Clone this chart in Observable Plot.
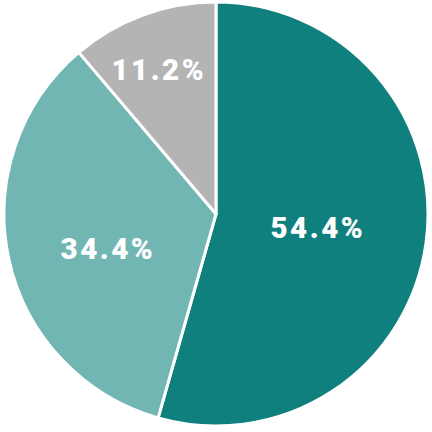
<!DOCTYPE html>
<html><head><meta charset="utf-8">
<script src="https://cdn.jsdelivr.net/npm/d3@7"></script>
<script src="https://cdn.jsdelivr.net/npm/@observablehq/plot@0.6"></script>
<style>body{margin:0;background:#fff}#chart{width:432px;height:432px}
#chart svg text{letter-spacing:2.5px;font-family:Roboto;font-weight:900;font-size:29.5px}</style>
</head><body><div id="chart"></div>
<script>
const categories = ["A", "B", "C"];
const values = [54.4, 34.4, 11.2];
const labels = ["54.4%", "34.4%", "11.2%"];
const colors = ["#0f807e", "#72b6b3", "#b4b4b4"];
const labelRadius = [0.477, 0.544, 0.734];
const labelAngleShift = [0.3, -5.5, -2.1];

const W = 432, H = 432, cx = 216, cy = 214, R = 212;
const data = categories.map((c, i) => ({category: c, value: values[i], label: labels[i], lr: labelRadius[i], la: labelAngleShift[i]}));
const arcs = d3.pie().sort(null).value(d => d.value)(data);
arcs.forEach(a => {
  const mid = (a.startAngle + a.endAngle) / 2 + a.data.la * Math.PI / 180;
  a.lx = cx + Math.sin(mid) * R * a.data.lr;
  a.ly = cy - Math.cos(mid) * R * a.data.lr;
});
const arcGen = d3.arc().innerRadius(0).outerRadius(R);

function pieMark(index, scales) {
  const g = d3.create("svg:g");
  const x0 = scales.x(cx), y0 = scales.y(cy);
  g.selectAll("path").data(arcs).join("path")
    .attr("transform", `translate(${x0},${y0})`)
    .attr("d", arcGen)
    .attr("fill", d => scales.color(d.data.category))
    .attr("stroke", "#fff")
    .attr("stroke-width", 3)
    .attr("stroke-linejoin", "round");
  return g.node();
}

const chart = Plot.plot({
  width: W, height: H, margin: 0,
  x: {domain: [0, W], range: [0, W], axis: null},
  y: {domain: [0, H], range: [0, H], axis: null},
  color: {domain: categories, range: colors},
  marks: [
    pieMark,
    Plot.text(arcs, {x: "lx", y: "ly", text: d => d.data.label, fill: "#fff", dx: 1.25,
      fontSize: 29.5, fontWeight: 900, fontFamily: "Roboto"})
  ]
});
document.getElementById("chart").append(chart);
</script></body></html>
